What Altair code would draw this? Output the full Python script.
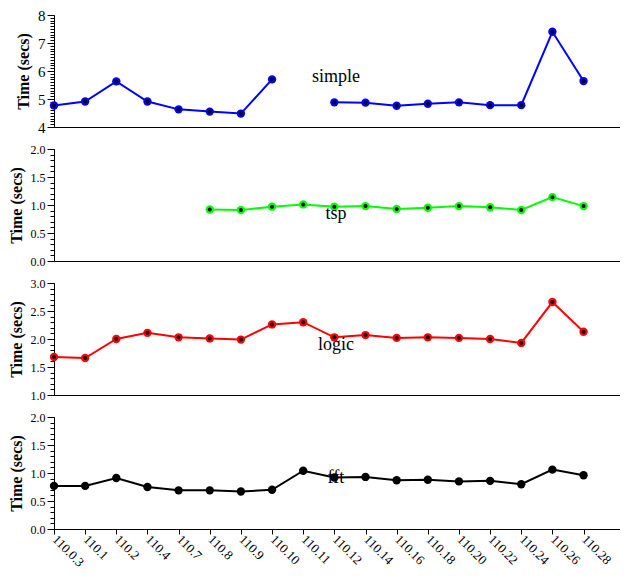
import json
import numpy as np
import pandas as pd
import altair as alt

versions = ["110.0.3", "110.1", "110.2", "110.4", "110.7", "110.8", "110.9",
            "110.10", "110.11", "110.12", "110.14", "110.16", "110.18",
            "110.20", "110.22", "110.24", "110.26", "110.28"]

simple = [4.77, 4.91, 5.63, 4.91, 4.63, 4.55, 4.48, 5.70, None, 4.88, 4.87,
          4.76, 4.83, 4.88, 4.78, 4.78, 7.40, 5.64]
tsp = [None, None, None, None, None, 0.92, 0.91, 0.97, 1.01, 0.97, 0.98,
       0.93, 0.95, 0.98, 0.96, 0.91, 1.14, 0.98]
logic = [1.68, 1.66, 2.00, 2.11, 2.03, 2.01, 1.99, 2.26, 2.30, 2.03, 2.07,
         2.02, 2.03, 2.02, 2.00, 1.93, 2.66, 2.13]
fft = [0.77, 0.77, 0.91, 0.75, 0.69, 0.69, 0.67, 0.70, 1.04, 0.92, 0.93,
       0.87, 0.88, 0.85, 0.86, 0.80, 1.06, 0.96]

# where the benchmark name sits (version index, time)
label_pos = {"simple": (9.05, 5.78), "tsp": (9.05, 0.84),
             "logic": (9.05, 1.90), "fft": (9.05, 0.91)}

SERIF = "Liberation Serif"
W, H = 566, 112
x_scale = alt.Scale(domain=[0, 18.17], nice=False, zero=False)
label_expr = json.dumps(versions) + "[datum.value]"


def panel(name, values, color, domain, step, fmt, label_size, bottom=False):
    df = pd.DataFrame({"idx": range(len(versions)), "version": versions, "time": values})
    df["seg"] = df["time"].isna().cumsum()
    df = df.dropna()

    if bottom:
        x_axis = alt.Axis(values=list(range(len(versions))), labelExpr=label_expr,
                          labelAngle=45, labelAlign="left", labelBaseline="middle",
                          labelFont=SERIF, labelFontSize=13, labelColor="black",
                          tickSize=5, tickColor="black", domainColor="black",
                          labelPadding=3, labelFlush=False, labelOverlap=False,
                          title=None, grid=False)
    else:
        x_axis = alt.Axis(labels=False, ticks=False, domainColor="black",
                          title=None, grid=False)
    x = alt.X("idx:Q", scale=x_scale, axis=x_axis)

    y_scale = alt.Scale(domain=domain, nice=False, zero=False)
    major = [round(v, 2) for v in np.arange(domain[0], domain[1] + 1e-9, step)]
    minor = [round(v, 2) for v in np.arange(domain[0], domain[1] + 1e-9, 0.1)]
    y_major = alt.Y("time:Q", scale=y_scale,
                    axis=alt.Axis(values=major, format=fmt, title="Time (secs)",
                                  titleFont=SERIF, titleFontSize=16, titleFontWeight="bold",
                                  titleColor="black", titlePadding=6,
                                  labelFont=SERIF, labelFontSize=label_size, labelColor="black",
                                  labelPadding=2, tickSize=7, tickColor="black",
                                  domainColor="black", grid=False))
    y_minor = alt.Y("time:Q", scale=y_scale,
                    axis=alt.Axis(values=minor, labels=False, tickSize=4, tickColor="black",
                                  domain=False, title=None, grid=False, orient="left"))
    y_plain = alt.Y("time:Q", scale=y_scale, axis=None)

    base = alt.Chart(df)
    line = base.mark_line(color=color, strokeWidth=2).encode(x=x, y=y_major, detail="seg:N")
    outer = base.mark_point(filled=True, size=70, color=color, opacity=1).encode(x=x, y=y_plain)
    inner = base.mark_point(filled=True, size=16, color="black", opacity=1).encode(x=x, y=y_minor)

    lx, ly = label_pos[name]
    lab = alt.Chart(pd.DataFrame({"idx": [lx], "time": [ly], "name": [name]})).mark_text(
        font=SERIF, fontSize=18, color="black", align="center", baseline="middle"
    ).encode(x=x, y=y_plain, text="name:N")

    return alt.layer(line, outer, inner, lab).resolve_axis(y="independent").properties(
        width=W, height=H)


chart = alt.vconcat(
    panel("simple", simple, "#0000ff", [4, 8], 1, "d", 15),
    panel("tsp", tsp, "#00ff00", [0, 2], 0.5, ".1f", 12),
    panel("logic", logic, "#ff0000", [1, 3], 0.5, ".1f", 12),
    panel("fft", fft, "black", [0, 2], 0.5, ".1f", 12, bottom=True),
    spacing=22,
).properties(bounds="flush", padding=0).configure_view(stroke=None)

chart.save("out.html", embed_options={"renderer": "svg", "actions": False})
